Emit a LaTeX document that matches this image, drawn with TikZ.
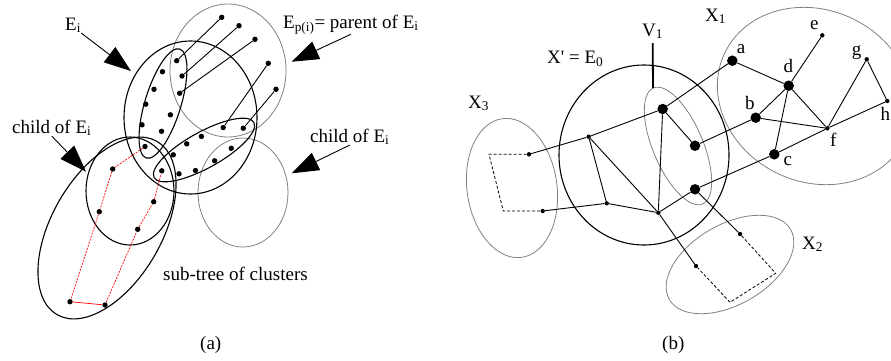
\documentclass[tikz,border=0pt]{standalone}
\usepackage{fontspec}
\setmainfont{Liberation Serif}
\usetikzlibrary{arrows.meta}

\begin{document}
\begin{tikzpicture}[
  x=1pt, y=-1pt,
  lbl/.style={font=\fontsize{19}{22}\selectfont, inner sep=0pt, anchor=base west},
  ring/.style={line width=1.1pt},
  halo/.style={gray, line width=0.8pt},
  pdot/.style={circle, fill, inner sep=0pt, minimum size=5.4pt},
  bigdot/.style={circle, fill, inner sep=0pt, minimum size=10.5pt},
  smalldot/.style={circle, fill, inner sep=0pt, minimum size=4.4pt},
  link/.style={line width=0.9pt},
  arr/.style={-{Triangle[length=27pt, width=19pt]}, line width=0.9pt},
  trace/.style={red, line width=0.7pt, dash pattern=on 2pt off 1.2pt},
  ghost/.style={line width=0.8pt, dash pattern=on 3pt off 2pt}
]
\useasboundingbox (0,0) rectangle (891,360);

% (a) clusters
\draw[halo] (228,70.5) ellipse[x radius=58, y radius=66.5];
\draw[halo] (243,192.5) ellipse[x radius=45, y radius=54.5];
\draw[ring] (190.5,117.5) ellipse[x radius=66.5, y radius=76.5];
\draw[ring, rotate around={73:(163,103.5)}] (163,103.5) ellipse[x radius=57, y radius=18];
\draw[ring, rotate around={29:(204,150)}] (204,150) ellipse[x radius=57, y radius=18];
\draw[ring] (130,191) ellipse[x radius=44, y radius=54];
\draw[ring, rotate around={60:(107,228)}] (107,228) ellipse[x radius=100, y radius=55];

\node[pdot] (v1) at (176.7,60.7) {};
\node[pdot] (v2) at (162.5,71.7) {};
\node[pdot] (v3) at (182,76) {};
\node[pdot] (v4) at (154,89.3) {};
\node[pdot] (v5) at (179.7,93.2) {};
\node[pdot] (v6) at (145.8,104.2) {};
\node[pdot] (v7) at (170.4,114.8) {};
\node[pdot] (v8) at (142,124.8) {};
\node[pdot] (v9) at (161.5,131.3) {};
\node[pdot] (v10) at (145,146.5) {};

\node[pdot] (w1) at (223.2,127.5) {};
\node[pdot] (w2) at (243.3,128.2) {};
\node[pdot] (w3) at (201.4,136.4) {};
\node[pdot] (w4) at (186.7,143.8) {};
\node[pdot] (w5) at (231.2,148.3) {};
\node[pdot] (w6) at (173.3,154.8) {};
\node[pdot] (w7) at (214.6,160.8) {};
\node[pdot] (w8) at (161.8,170.8) {};
\node[pdot] (w9) at (179,173.8) {};
\node[pdot] (w10) at (195.5,170.5) {};

\node[pdot] (o1) at (221.7,17.3) {};
\node[pdot] (o2) at (239,25.7) {};
\node[pdot] (o3) at (255,39.3) {};
\node[pdot] (o4) at (268.3,63.3) {};
\node[pdot] (o5) at (276,89.3) {};

\node[pdot] (s1) at (112.7,169) {};
\node[pdot] (s2) at (99.3,211.7) {};
\node[pdot] (s3) at (70,301.7) {};
\node[pdot] (s4) at (105,305) {};
\node[pdot] (s5) at (137.7,229.3) {};
\node[pdot] (s6) at (153.7,201.7) {};

\draw[link] (o1) -- (v1);
\draw[link] (o2) -- (v3);
\draw[link] (o3) -- (v5);
\draw[link] (o4) -- (w1);
\draw[link] (o5) -- (w2);

\draw[trace] (v10) -- (s1) -- (s2) -- (s3);
\draw[red, line width=0.7pt] (s3) -- (s4);
\draw[trace] (s4) -- (s5) -- (s6) -- (w8);

\node[lbl] (lEi) at (65,30) {E\textsubscript{i}};
\node[lbl] (lEp) at (283,28) {E\textsubscript{p(i)}= parent of E\textsubscript{i}};
\node[lbl] (lcL) at (12,133) {child of E\textsubscript{i}};
\node[lbl] (lcR) at (310,142) {child of E\textsubscript{i}};
\node[lbl] (lsub) at (163,280) {sub-tree of clusters};
\node[lbl] (capA) at (200,349) {(a)};

\coordinate (tEi) at (131,71);
\coordinate (tEp) at (291.7,61.7);
\coordinate (tcL) at (86,171.7);
\coordinate (tcR) at (291.7,173.3);
\draw[arr] (lEi.south east) -- (tEi);
\draw[arr] (lEp.south) -- (tEp);
\draw[arr] (lcL.south) -- (tcL);
\draw[arr] (lcR.south) -- (tcR);

% (b) graph
\draw[halo, rotate around={-25:(815,96)}] (815,96) ellipse[x radius=100, y radius=86];
\draw[halo, rotate around={8:(512,188)}] (512,188) ellipse[x radius=45, y radius=70];
\draw[halo, rotate around={30:(730,264.5)}] (730,264.5) ellipse[x radius=70, y radius=40];
\draw[halo, rotate around={-67:(678,146)}] (678,146) ellipse[x radius=63, y radius=25];
\draw[ring] (644,155) ellipse[x radius=85, y radius=90];

\node[smalldot] (x3a) at (529,154.3) {};
\node[smalldot] (x3b) at (542.7,211) {};
\coordinate (c3a) at (489,154.3);
\coordinate (c3b) at (503.3,211);
\node[smalldot] (e0a) at (588.7,136.7) {};
\node[smalldot] (e0b) at (606.7,203.3) {};
\node[smalldot] (e0c) at (658.3,212.7) {};
\node[bigdot] (u1) at (662.7,109) {};
\node[bigdot] (u2) at (695,145.7) {};
\node[bigdot] (u3) at (695,189.3) {};
\node[bigdot] (a) at (732.3,60.7) {};
\node[bigdot] (b) at (755.7,117.7) {};
\node[bigdot] (c) at (774.3,154.3) {};
\node[bigdot] (d) at (788.7,85.7) {};
\node[smalldot] (e) at (822.3,35.3) {};
\node[smalldot] (f) at (827.3,128.3) {};
\node[smalldot] (g) at (866.7,59.3) {};
\node[smalldot] (h) at (887.3,101) {};
\node[smalldot] (x2a) at (740,234) {};
\node[smalldot] (x2b) at (696,266) {};
\coordinate (c2a) at (775.7,273.3);
\coordinate (c2b) at (730,302.3);

\draw[link] (x3a) -- (e0a) -- (u1) -- (a);
\draw[link] (u1) -- (u2) -- (b);
\draw[link] (u1) -- (e0c);
\draw[link] (e0a) -- (e0b);
\draw[link] (e0a) -- (e0c);
\draw[link] (x3b) -- (e0b) -- (e0c) -- (u3) -- (c) -- (f) -- (h);
\draw[link] (e0c) -- (x2b);
\draw[link] (u3) -- (x2a);
\draw[link] (a) -- (d) -- (e);
\draw[link] (d) -- (b) -- (f);
\draw[link] (d) -- (c);
\draw[link] (d) -- (f) -- (g) -- (h);
\draw[ghost] (x3a) -- (c3a) -- (c3b) -- (x3b);
\draw[ghost] (x2a) -- (c2a) -- (c2b) -- (x2b);

\node[lbl] (la) at (736.7,53) {a};
\node[lbl] (lb) at (745,109.3) {b};
\node[lbl] (lc) at (783.3,165) {c};
\node[lbl] (ld) at (783.3,72.7) {d};
\node[lbl] (le) at (810,29.3) {e};
\node[lbl] (lf) at (830,146.7) {f};
\node[lbl] (lg) at (851.7,55) {g};
\node[lbl] (lh) at (880.5,120) {h};

\node[lbl] (lX0) at (547,63.5) {X\textquotesingle{} = E\textsubscript{0}};
\node[lbl] (lV1) at (642,36) {V\textsubscript{1}};
\node[lbl] (lX1) at (705,21) {X\textsubscript{1}};
\node[lbl] (lX2) at (802,249) {X\textsubscript{2}};
\node[lbl] (lX3) at (468,108) {X\textsubscript{3}};
\node[lbl] (capB) at (662,349) {(b)};

\coordinate (tV1) at (653,88);
\draw[line width=1.8pt, shorten <=4pt] (lV1.south) -- (tV1);
\end{tikzpicture}
\end{document}
